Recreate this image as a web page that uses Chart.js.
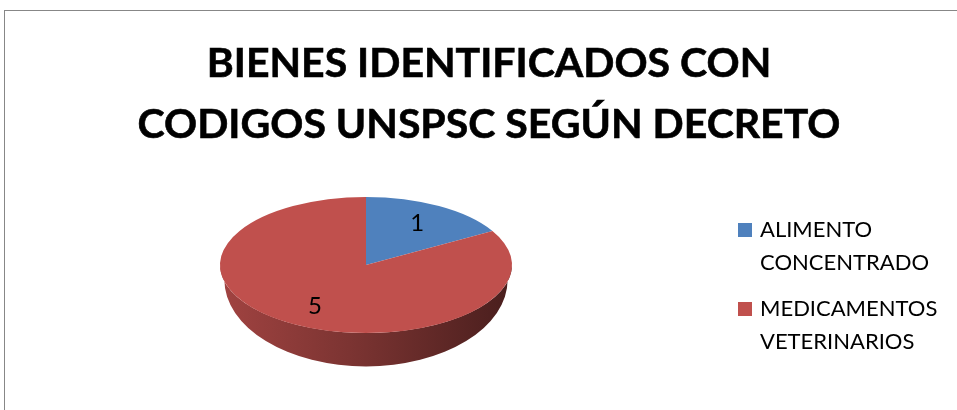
<!DOCTYPE html>
<html>
<head>
<meta charset="utf-8">
<script src="https://cdn.jsdelivr.net/npm/chart.js@4/dist/chart.umd.min.js"></script>
<style>
  html, body { margin: 0; padding: 0; background: #fff; }
  #wrap { position: relative; width: 957px; height: 410px; overflow: hidden; }
  #frame { position: absolute; left: 4px; top: 10px; right: -2px; bottom: -2px;
           border-left: 1px solid #878787; border-top: 1px solid #878787; }
  canvas { position: absolute; left: 0; top: 0; }
  #title { position: absolute; left: 0; width: 978px; top: 31px; text-align: center;
           font-family: Lato, sans-serif; font-weight: 700; font-size: 41px; line-height: 61px; color: #000;
           -webkit-text-stroke: 0.6px #000; }
  .leg { position: absolute; left: 738px; font-family: Lato, sans-serif; font-size: 22px;
         line-height: 33px; color: #000; }
  .leg .box { position: absolute; left: 0; top: 11px; width: 14px; height: 14px; }
  .leg .txt { position: absolute; left: 22px; top: 0; width: 210px; }
</style>
</head>
<body>
<div id="wrap">
  <div id="frame"></div>
  <canvas id="pie" width="957" height="410"></canvas>
  <div id="title"></div>
  <div id="legend"></div>
</div>
<script>
// data
const titleLines = ['BIENES IDENTIFICADOS CON', 'CODIGOS UNSPSC SEGÚN DECRETO'];
const categories = ['ALIMENTO CONCENTRADO', 'MEDICAMENTOS VETERINARIOS'];
const values = [1, 5];
const colors = ['#4F81BD', '#C0504D'];

function shade(hex, f) {
    const n = parseInt(hex.slice(1), 16);
    const r = Math.round(((n >> 16) & 255) * f);
    const g = Math.round(((n >> 8) & 255) * f);
    const b = Math.round((n & 255) * f);
    return `rgb(${r},${g},${b})`;
}

// squashes the library's pie into a tilted disc and draws its front wall
const pie3d = {
    id: 'pie3d',
    beforeDatasetsDraw(chart, args, opts) {
        const ctx = chart.ctx;
        const arcs = chart.getDatasetMeta(0).data;
        if (!arcs.length) return;
        const { x: cx, y: cy, outerRadius: r } = arcs[0];
        const ry = r * opts.tilt;
        const bx = r * opts.bottomX, by = ry * opts.bottomY, bcy = cy + opts.depth;

        ctx.save();
        arcs.forEach((arc, i) => {
            const col = chart.data.datasets[0].backgroundColor[i];
            for (let k = -1; k <= 1; k++) {
                const lo = Math.max(arc.startAngle, 2 * Math.PI * k);
                const hi = Math.min(arc.endAngle, 2 * Math.PI * k + Math.PI);
                if (hi <= lo) continue;
                const a = lo - 2 * Math.PI * k, b = hi - 2 * Math.PI * k;
                const grad = ctx.createLinearGradient(cx - r, 0, cx + r, 0);
                grad.addColorStop(0, shade(col, 0.84));
                grad.addColorStop(0.5, shade(col, 0.62));
                grad.addColorStop(1, shade(col, 0.38));
                ctx.beginPath();
                ctx.ellipse(cx, cy, r, ry, 0, a, b, false);
                ctx.ellipse(cx, bcy, bx, by, 0, b, a, true);
                ctx.closePath();
                ctx.fillStyle = grad;
                ctx.fill();
            }
        });
        ctx.restore();

        ctx.save();
        ctx.translate(cx, cy);
        ctx.scale(1, opts.tilt);
        ctx.translate(-cx, -cy);
    },
    afterDatasetsDraw(chart, args, opts) {
        const ctx = chart.ctx;
        ctx.restore();
        const arcs = chart.getDatasetMeta(0).data;
        const vals = chart.data.datasets[0].data;
        ctx.save();
        ctx.font = opts.font;
        ctx.fillStyle = '#000';
        ctx.textAlign = 'center';
        ctx.textBaseline = 'middle';
        arcs.forEach((arc, i) => {
            const mid = (arc.startAngle + arc.endAngle) / 2;
            const x = arc.x + opts.labelPos * arc.outerRadius * Math.cos(mid);
            const y = arc.y + opts.labelPos * arc.outerRadius * opts.tilt * Math.sin(mid);
            ctx.fillText(String(vals[i]), x, y);
        });
        ctx.restore();
    }
};

const chart = new Chart(document.getElementById('pie'), {
    type: 'pie',
    data: {
        labels: categories,
        datasets: [{
            data: values,
            backgroundColor: colors,
            borderWidth: 0,
            clip: false,
            radius: 146
        }]
    },
    options: {
        responsive: false,
        animation: false,
        events: [],
        layout: { padding: { left: 220, right: 445, top: 150, bottom: 30 } },
        plugins: {
            legend: { display: false },
            tooltip: { enabled: false },
            pie3d: { tilt: 0.466, depth: 15, bottomX: 0.97, bottomY: 1.27,
                     labelPos: 0.7, font: '24px Lato, sans-serif' }
        }
    },
    plugins: [pie3d]
});

// title and legend as page text
document.getElementById('title').innerHTML = titleLines.join('<br>');
const legend = document.getElementById('legend');
const legendTops = [212, 291];
categories.forEach((c, i) => {
    const item = document.createElement('div');
    item.className = 'leg';
    item.style.top = legendTops[i] + 'px';
    item.innerHTML = `<div class="box" style="background:${colors[i]}"></div><div class="txt">${c}</div>`;
    legend.appendChild(item);
});
</script>
</body>
</html>
